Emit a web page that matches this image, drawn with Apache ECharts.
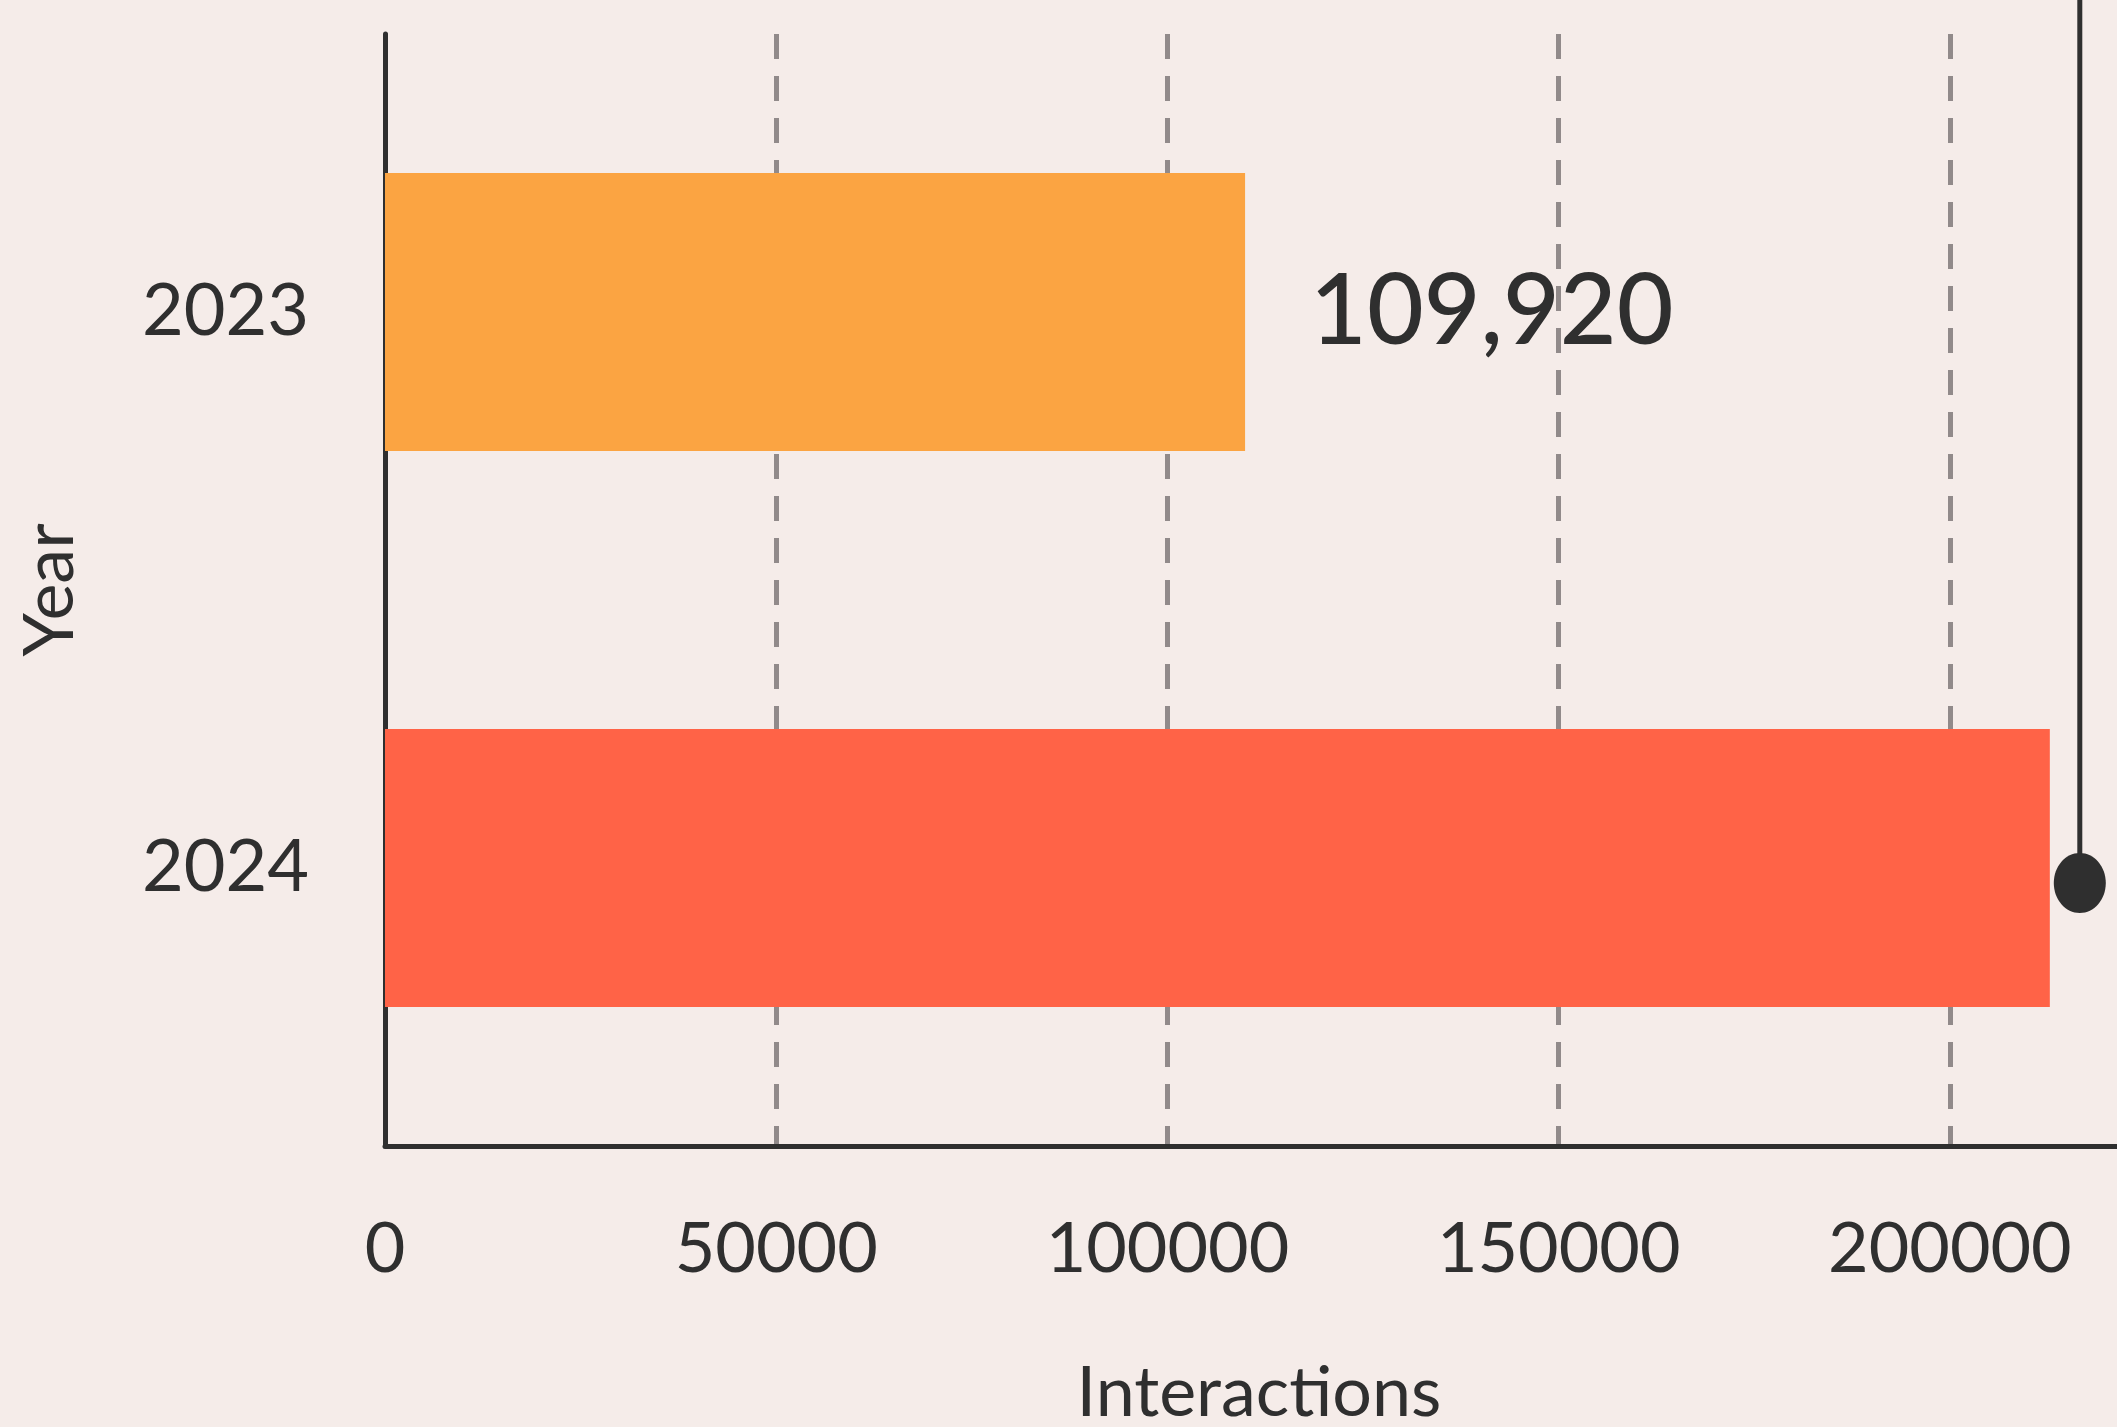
<!DOCTYPE html>
<html>
<head>
<meta charset="utf-8">
<script src="https://cdn.jsdelivr.net/npm/echarts@6/dist/echarts.min.js"></script>
<style>
html,body{margin:0;padding:0;background:#F5ECE9;}
#chart{width:2117px;height:1427px;}
</style>
</head>
<body>
<div id="chart"></div>
<script>
var categories = ['2023', '2024'];
var interactions = [109920, 212770];
var barColors = ['#FBA442', '#FF6347'];
var pinValues = [216600];
var xTicks = [0, 50000, 100000, 150000, 200000];

var chart = echarts.init(document.getElementById('chart'));
var textColor = '#2F2F2F';
var fontFam = 'Lato, "Noto Sans", sans-serif';

chart.setOption({
  backgroundColor: '#F5ECE9',
  animation: false,
  grid: { left: 385, top: 34, width: 1748, height: 1112, containLabel: false, outerBoundsMode: 'none' },
  xAxis: {
    type: 'value',
    min: 0,
    max: 223400,
    interval: 50000,
    name: 'Interactions',
    nameLocation: 'middle',
    nameGap: 212,
    nameTextStyle: { color: textColor, fontSize: 70, fontFamily: fontFam },
    axisLine: { show: true, lineStyle: { color: textColor, width: 5 } },
    axisTick: { show: false },
    axisLabel: {
      color: textColor, fontSize: 70, fontFamily: fontFam, margin: 68,
      showMaxLabel: false,
      formatter: function (v) { return xTicks.indexOf(v) >= 0 ? String(v) : ''; }
    },
    splitLine: { show: true, lineStyle: { color: '#918A8A', width: 5, type: [25, 17] } }
  },
  yAxis: {
    type: 'category',
    data: categories,
    inverse: true,
    name: 'Year',
    nameLocation: 'middle',
    nameGap: 300,
    nameTextStyle: { color: textColor, fontSize: 70, fontFamily: fontFam },
    axisLine: { show: true, lineStyle: { color: textColor, width: 5 } },
    axisTick: { show: false },
    axisLabel: { color: textColor, fontSize: 72, fontFamily: fontFam, margin: 76 },
    splitLine: { show: false }
  },
  series: [
    {
      type: 'bar',
      barWidth: '50%',
      data: interactions.map(function (v, i) {
        return {
          value: v,
          itemStyle: { color: barColors[i] },
          label: {
            show: i === 0,
            position: 'right',
            distance: 65,
            formatter: function (p) { return p.value.toLocaleString('en-US'); },
            color: textColor,
            fontSize: 98,
            fontWeight: 500,
            fontFamily: fontFam
          }
        };
      })
    },
    {
      type: 'custom',
      clip: false,
      z: 5,
      data: pinValues.map(function (v) { return [v, categories[1]]; }),
      encode: { x: 0, y: 1 },
      renderItem: function (params, api) {
        var p = api.coord([api.value(0), api.value(1)]);
        var cy = p[1] + 15;
        return {
          type: 'group',
          children: [
            { type: 'line', shape: { x1: p[0], y1: 0, x2: p[0], y2: cy }, style: { stroke: textColor, lineWidth: 5 } },
            { type: 'ellipse', shape: { cx: p[0], cy: cy, rx: 26, ry: 30 }, style: { fill: textColor } }
          ]
        };
      }
    }
  ]
});
</script>
</body>
</html>
